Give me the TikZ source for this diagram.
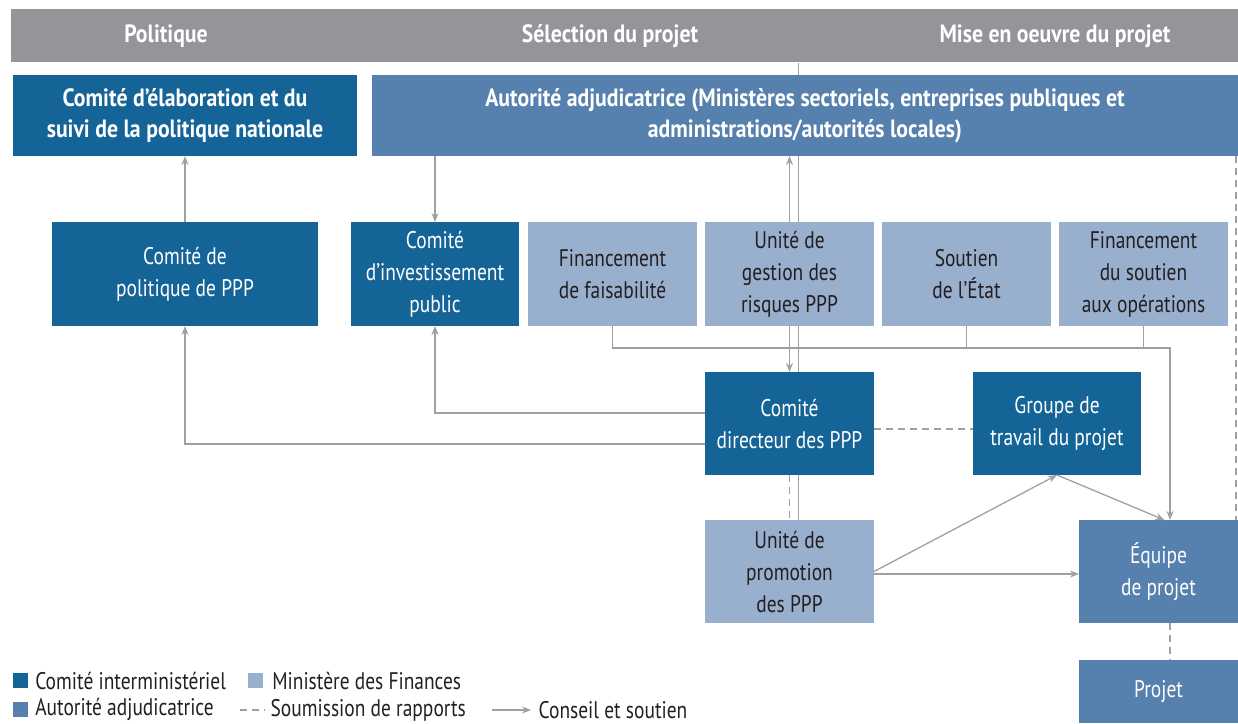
\documentclass[tikz,border=0pt]{standalone}
\usepackage{fontspec}
\setmainfont{PT Sans}[FakeStretch=0.81]
\newfontfamily\headfont{PT Sans Bold}[FakeStretch=0.87]
\usetikzlibrary{positioning}
\usetikzlibrary{backgrounds}
\usetikzlibrary{arrows.meta}
\definecolor{dkblue}{RGB}{20,100,152}
\definecolor{mdblue}{RGB}{86,128,173}
\definecolor{ltblue}{RGB}{153,175,206}
\definecolor{hdrgray}{RGB}{147,149,152}
\definecolor{lngray}{RGB}{160,160,163}
\definecolor{txtdark}{RGB}{35,31,32}

\begin{document}
\begin{tikzpicture}[x=1pt,y=1pt,line width=1.3pt,>={Stealth[length=9pt,width=7pt]},
  box/.style={inner sep=0pt,outer sep=0pt,align=center,minimum width=169pt,minimum height=104pt,font=\fontsize{24}{32}\selectfont},
  dkbox/.style={box,fill=dkblue,text=white},
  ltbox/.style={box,fill=ltblue,text=txtdark},
  mdbox/.style={box,fill=mdblue,text=white},
  topbox/.style={inner sep=0pt,outer sep=0pt,align=center,minimum height=81pt,text=white,font=\headfont\fontsize{25}{31}\selectfont},
  hdrtext/.style={text=white,font=\headfont\fontsize{25}{28}\selectfont},
  lnk/.style={draw=lngray},
  rpt/.style={draw=lngray,dash pattern=on 7pt off 5pt},
  legsq/.style={fill=#1,minimum size=15pt,inner sep=0pt},
  legtext/.style={anchor=west,text=txtdark,inner sep=0pt,font=\fontsize{24}{28}\selectfont}]
  \useasboundingbox (0,0) rectangle (1238,-723);
  % header
  \node[fill=hdrgray,inner sep=0pt,minimum width=1227pt,minimum height=53pt](hdr) at (624.5,-35.5) {};
  \node[hdrtext](hpol) at (166,-36) {Politique};
  \node[hdrtext](hsel) at (610,-36) {Sélection du projet};
  \node[hdrtext](hmise) at (1055,-36) {Mise en oeuvre du projet};
  % top row
  \node[topbox,fill=dkblue,minimum width=344pt](elab) at (185,-115.5) {Comité d’élaboration et du\\suivi de la politique nationale};
  \node[topbox,fill=mdblue,minimum width=866pt,right=15pt of elab](autorite) {Autorité adjudicatrice (Ministères sectoriels, entreprises publiques et\\administrations/autorités locales)};
  % second row
  \node[dkbox,minimum width=168pt](invest) at (435,-274) {Comité\\d’investissement\\public};
  \node[dkbox,minimum width=266pt,left=33pt of invest](polit) {Comité de\\politique de PPP};
  \node[ltbox,right=9pt of invest](faisab) {Financement\\de faisabilité};
  \node[ltbox,right=8pt of faisab](risques) {Unité de\\gestion des\\risques PPP};
  \node[ltbox,right=8pt of risques](etat) {Soutien\\de l’État};
  \node[ltbox,right=8pt of etat](operat) {Financement\\du soutien\\aux opérations};
  % lower rows
  \node[dkbox,minimum height=103pt,below=46pt of risques](directeur) {Comité\\directeur des PPP};
  \node[dkbox,minimum width=168pt,minimum height=103pt,right=99pt of directeur](groupe) {Groupe de\\travail du projet};
  \node[ltbox,minimum height=103pt,below=45pt of directeur](promo) {Unité de\\promotion\\des PPP};
  \node[mdbox,minimum width=159pt,minimum height=103pt,right=205pt of promo](equipe) {Équipe\\de projet};
  \node[mdbox,minimum width=159pt,minimum height=63pt,below=37pt of equipe](projet) {Projet};
  \begin{scope}[on background layer]
    \draw[lnk] ([xshift=8.5pt]risques.center |- hdr.south) -- ([xshift=8.5pt]promo.north);
  \end{scope}
  % conseil et soutien
  \draw[lnk,->] (polit.north) -- (elab.south);
  \draw[lnk,->] (invest.north |- autorite.south) -- (invest.north);
  \draw[lnk,->] (risques.north) -- (risques.north |- autorite.south);
  \draw[lnk,->] (risques.south) -- (directeur.north);
  \draw[lnk,->] ([yshift=10.5pt]directeur.west) -| (invest.south);
  \draw[lnk,->] ([yshift=-20.5pt]directeur.west) -| (polit.south);
  \coordinate (fund) at ([yshift=-22pt]faisab.south);
  \draw[lnk,->] (faisab.south) -- (fund) -| ([xshift=11.5pt]equipe.north);
  \draw[lnk] (etat.south) -- (etat.south |- fund);
  \draw[lnk] (operat.south) -- (operat.south |- fund);
  \draw[lnk,->] (groupe.south) -- ([xshift=6pt]equipe.north);
  \draw[lnk,->] (promo.east) -- (groupe.south);
  \draw[lnk,->] ([yshift=-2.5pt]promo.east) -- ([yshift=-2.5pt]equipe.west);
  % soumission de rapports
  \draw[rpt] ([yshift=-5.5pt]directeur.east) -- ([yshift=-5.5pt]groupe.west);
  \draw[rpt] (directeur.south) -- (promo.north);
  \draw[rpt] ([xshift=-2pt]equipe.north east |- autorite.south) -- ([xshift=-2pt]equipe.north east);
  \draw[rpt] ([xshift=11.5pt]equipe.south) -- ([xshift=11.5pt]projet.north);
  % legend
  \node[legsq=dkblue](lg1) at (20.5,-680.5) {};
  \node[legtext,right=6pt of lg1](lt1) {Comité interministériel};
  \node[legsq=ltblue](lg2) at (255.5,-680.5) {};
  \node[legtext,right=8pt of lg2](lt2) {Ministère des Finances};
  \node[legsq=mdblue](lg3) at (20.5,-709.5) {};
  \node[legtext,right=6pt of lg3](lt3) {Autorité adjudicatrice};
  \coordinate (ld1) at (240,-710);
  \coordinate (ld2) at (265,-710);
  \draw[rpt] (ld1) -- (ld2);
  \node[legtext,right=5pt of ld2](lt4) {Soumission de rapports};
  \coordinate (la1) at (492,-710);
  \coordinate (la2) at (531,-710);
  \draw[lnk,->] (la1) -- (la2);
  \node[legtext,right=7pt of la2](lt5) {Conseil et soutien};
\end{tikzpicture}
\end{document}
